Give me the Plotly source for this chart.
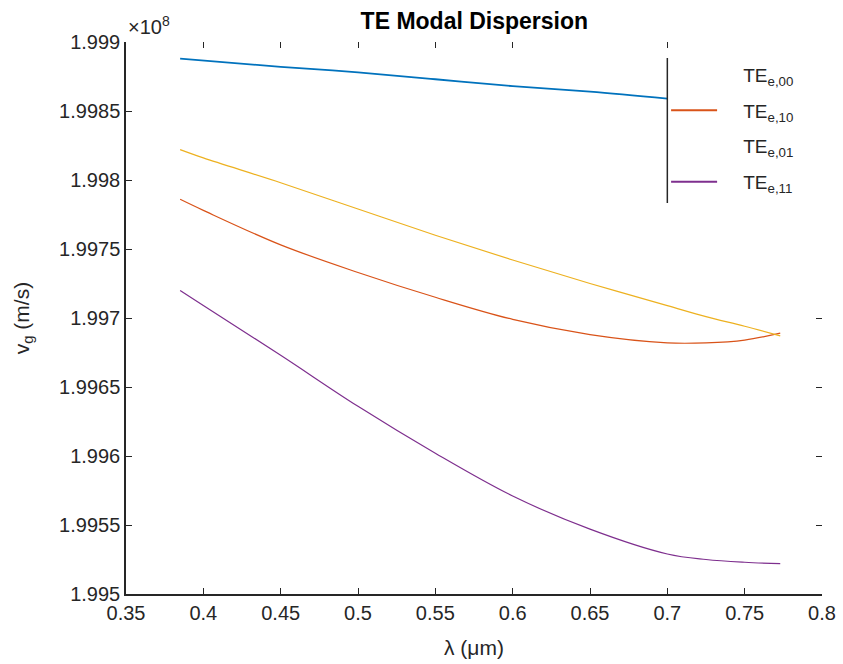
import plotly.graph_objects as go

# wavelength (um) and group velocity (units of 1e8 m/s)
lam_00 = [0.385, 0.45, 0.50, 0.55, 0.60, 0.65, 0.70]
vg_00 = [1.99888, 1.99882, 1.99878, 1.99873, 1.99868, 1.99864, 1.99859]

lam = [0.385, 0.40, 0.45, 0.50, 0.55, 0.60, 0.65, 0.70, 0.725, 0.75, 0.773]
vg_10 = [1.99786, 1.99778, 1.99753, 1.99733, 1.99715, 1.99699, 1.99688, 1.99682, 1.99682, 1.99684, 1.99689]
vg_01 = [1.99822, 1.99816, 1.99798, 1.99779, 1.99760, 1.99742, 1.99725, 1.99709, 1.99701, 1.99694, 1.99687]
vg_11 = [1.99720, 1.99709, 1.99673, 1.99636, 1.99602, 1.99571, 1.99547, 1.99529, 1.99525, 1.99523, 1.99522]

names = ["TE<sub>e,00</sub>", "TE<sub>e,10</sub>", "TE<sub>e,01</sub>", "TE<sub>e,11</sub>"]
colors = ["#0072BD", "#D95319", "#EDB120", "#7E2F8E"]
legend_sample_colors = ["rgba(0,0,0,0)", "#D95319", "rgba(0,0,0,0)", "#7E2F8E"]

x_ticks = [0.35, 0.4, 0.45, 0.5, 0.55, 0.6, 0.65, 0.7, 0.75, 0.8]
x_tick_labels = ["0.35", "0.4", "0.45", "0.5", "0.55", "0.6", "0.65", "0.7", "0.75", "0.8"]
y_ticks = [1.995, 1.9955, 1.996, 1.9965, 1.997, 1.9975, 1.998, 1.9985, 1.999]
y_tick_labels = ["1.995", "1.9955", "1.996", "1.9965", "1.997", "1.9975", "1.998", "1.9985", "1.999"]
top_ticks = [0.4, 0.45, 0.5, 0.55, 0.6, 0.7]
right_ticks = [1.9955, 1.996, 1.9965, 1.997]

FONT = "Liberation Sans, Arial, sans-serif"
AX = "#262626"

fig = go.Figure()
series = [(lam_00, vg_00), (lam, vg_10), (lam, vg_01), (lam, vg_11)]
widths = [1.8, 1.2, 1.2, 1.2]
for (xs, ys), c, w, n in zip(series, colors, widths, names):
    fig.add_trace(go.Scatter(x=xs, y=ys, mode="lines", line=dict(color=c, width=w),
                             name=n, showlegend=False, line_shape="spline"))
for i, (n, c) in enumerate(zip(names, legend_sample_colors)):
    fig.add_trace(go.Scatter(x=[None], y=[None], mode="lines", line=dict(color=c, width=2),
                             name="\u00a0\u00a0\u00a0\u00a0" + n, showlegend=True, legendgroup=f"g{i}"))

fig.update_layout(
    width=843, height=664,
    margin=dict(l=126, r=21, t=42, b=70, autoexpand=False),
    paper_bgcolor="white", plot_bgcolor="white",
    font=dict(family=FONT, color=AX, size=20),
    title=dict(text="<b>TE Modal Dispersion</b>", x=0.5627, xanchor="center",
               y=1 - 21 / 664, yanchor="middle", yref="container",
               font=dict(size=23, color="#000000", family=FONT)),
    xaxis=dict(range=[0.35, 0.8], tickvals=x_ticks, ticktext=x_tick_labels, automargin=False,
               ticks="inside", ticklen=6, tickwidth=1.2, tickcolor=AX,
               showline=True, linecolor=AX, linewidth=1.5, showgrid=False, zeroline=False,
               title=dict(text="λ (μm)", font=dict(size=21), standoff=18)),
    yaxis=dict(range=[1.995, 1.999], tickvals=y_ticks, ticktext=y_tick_labels, automargin=False,
               ticks="inside", ticklen=6, tickwidth=1.2, tickcolor=AX,
               showline=True, linecolor=AX, linewidth=1.5, showgrid=False, zeroline=False,
               title=dict(text="v<sub>g</sub> (m/s)", font=dict(size=21), standoff=24)),
    xaxis2=dict(range=[0.35, 0.8], overlaying="x", side="top", tickvals=top_ticks, automargin=False,
                showticklabels=False, ticks="inside", ticklen=6, tickwidth=1.2, tickcolor=AX,
                showline=False, showgrid=False, zeroline=False),
    yaxis2=dict(range=[1.995, 1.999], overlaying="y", side="right", tickvals=right_ticks, automargin=False,
                showticklabels=False, ticks="inside", ticklen=6, tickwidth=1.2, tickcolor=AX,
                showline=False, showgrid=False, zeroline=False),
    legend=dict(x=0.776, xanchor="left", y=0.975, yanchor="top",
                bgcolor="rgba(0,0,0,0)", borderwidth=0,
                font=dict(size=19, color=AX, family=FONT), itemwidth=46,
                tracegroupgap=8),
    showlegend=True,
)
# anchor overlay axes with an empty trace so they render
fig.add_trace(go.Scatter(x=[None], y=[None], xaxis="x2", yaxis="y2", showlegend=False, hoverinfo="skip"))

# legend box left edge
fig.add_shape(type="line", xref="x", yref="paper", x0=0.7, x1=0.7,
              y0=(594 - 203) / 552, y1=(594 - 58) / 552, line=dict(color=AX, width=1.5))

fig.add_annotation(text="×10<sup>8</sup>", xref="paper", yref="paper", x=0.0, y=1.0,
                   xanchor="left", yanchor="bottom", showarrow=False, yshift=2,
                   font=dict(size=20, color=AX, family=FONT))

fig.write_html("out.html")
